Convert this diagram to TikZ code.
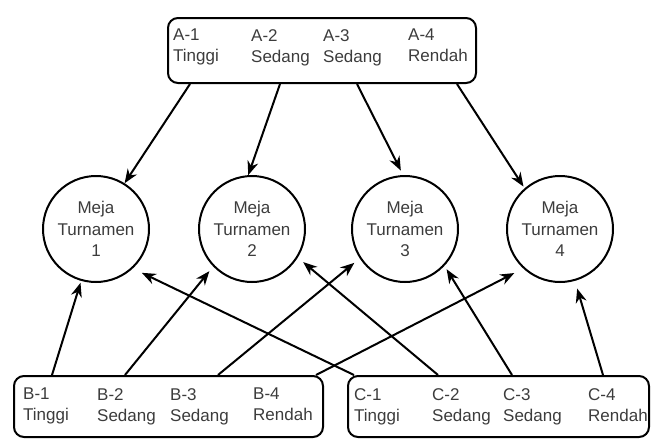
\documentclass[tikz,border=0pt]{standalone}
\usepackage{fontspec}
\setmainfont{Liberation Sans}
\usetikzlibrary{arrows.meta}
\definecolor{txt}{RGB}{60,60,60}
\begin{document}
\begin{tikzpicture}[x=1pt,y=-1pt,
  box/.style={draw, line width=2pt, rounded corners=10pt, inner sep=0pt},
  meja/.style={circle, draw, line width=2pt, minimum size=106pt, inner sep=0pt, align=center, font=\fontsize{17}{21.5}\selectfont, text=txt},
  lbl/.style={anchor=north west, inner sep=0pt, align=left, font=\fontsize{17}{21}\selectfont, text=txt},
  arr/.style={line width=2pt, -{Stealth[length=14pt,width=11pt]}}]
\useasboundingbox (0,0) rectangle (651,439);
% boxes
\node[box, minimum width=308pt, minimum height=65pt, anchor=north west] (A) at (167,17) {};
\node[box, minimum width=309pt, minimum height=61pt, anchor=north west] (B) at (13,375) {};
\node[box, minimum width=301pt, minimum height=61pt, anchor=north west] (C) at (347,375) {};
% labels
\node[lbl] (a1) at (173,29) {A-1\\Tinggi};
\node[lbl] (a2) at (251,29) {A-2\\Sedang};
\node[lbl] (a3) at (323,29) {A-3\\Sedang};
\node[lbl] (a4) at (408,29) {A-4\\Rendah};
\node[lbl] (b1) at (23,388) {B-1\\Tinggi};
\node[lbl] (b2) at (97,388) {B-2\\Sedang};
\node[lbl] (b3) at (170,388) {B-3\\Sedang};
\node[lbl] (b4) at (253,388) {B-4\\Rendah};
\node[lbl] (k1) at (354,388) {C-1\\Tinggi};
\node[lbl] (k2) at (432,388) {C-2\\Sedang};
\node[lbl] (k3) at (503,388) {C-3\\Sedang};
\node[lbl] (k4) at (588,388) {C-4\\Rendah};
% circles
\node[meja] (c1) at (96,229) {Meja\\Turnamen\\1};
\node[meja] (c2) at (252,229) {Meja\\Turnamen\\2};
\node[meja] (c3) at (405,229) {Meja\\Turnamen\\3};
\node[meja] (c4) at (560,229) {Meja\\Turnamen\\4};
% arrows from A
\draw[arr] ([xshift=23pt]A.south west) -- (c1.58);
\draw[arr] ([xshift=113pt]A.south west) -- (c2.94);
\draw[arr, shorten >=5pt] ([xshift=190pt]A.south west) -- (c3.92);
\draw[arr, shorten >=2pt] ([xshift=290pt]A.south west) -- (c4.131);
% arrows from B
\draw[arr, shorten >=2pt] ([xshift=39pt]B.north west) -- (c1.254);
\draw[arr, shorten >=6pt] ([xshift=112pt]B.north west) -- (c2.224);
\draw[arr, shorten >=7pt] ([xshift=205pt]B.north west) -- (c3.213);
\draw[arr, shorten >=10pt] ([xshift=-8pt]B.north east) -- (c4.227);
% arrows from C
\draw[arr, shorten >=10pt] ([xshift=7pt]C.north west) -- (c1.313);
\draw[arr, shorten >=7pt] ([xshift=91pt]C.north west) -- (c2.328);
\draw[arr, shorten >=4pt] ([xshift=165pt]C.north west) -- (c3.317);
\draw[arr, shorten >=8pt] ([xshift=256pt]C.north west) -- (c4.286);
\end{tikzpicture}
\end{document}
